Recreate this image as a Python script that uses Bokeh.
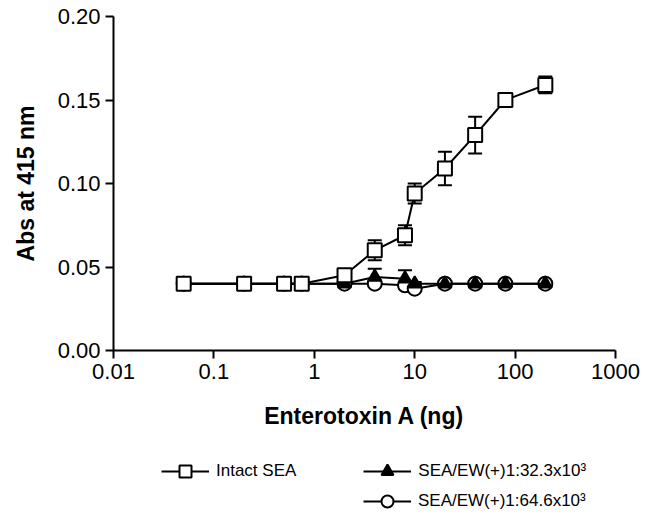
from bokeh.plotting import figure
from bokeh.layouts import column
from bokeh.models import (Range1d, FixedTicker, CustomJSTickFormatter, ColumnDataSource,
                          Whisker, TeeHead, Legend, LegendItem)
from bokeh.embed import file_html
from bokeh.resources import INLINE

# ---- data ----
dose_ng = [0.05, 0.2, 0.5, 0.75, 2, 4, 8, 10, 20, 40, 80, 200]

intact_sea = [0.040, 0.040, 0.040, 0.040, 0.045, 0.060, 0.069, 0.094, 0.109, 0.129, 0.150, 0.159]
intact_err = [0.002, 0.001, 0.001, 0.001, 0.002, 0.006, 0.006, 0.006, 0.010, 0.011, 0.002, 0.005]

sea_ew_32 = [0.040, 0.040, 0.040, 0.040, 0.040, 0.044, 0.043, 0.040, 0.040, 0.040, 0.040, 0.040]
sea_ew_32_err = [0.001, 0.001, 0.001, 0.001, 0.001, 0.005, 0.005, 0.001, 0.001, 0.001, 0.001, 0.001]

sea_ew_64 = [0.040, 0.040, 0.040, 0.040, 0.040, 0.040, 0.039, 0.037, 0.040, 0.040, 0.040, 0.040]
sea_ew_64_err = [0.001, 0.001, 0.001, 0.001, 0.001, 0.001, 0.002, 0.001, 0.001, 0.001, 0.001, 0.001]

x_ticks = [0.01, 0.1, 1, 10, 100, 1000]
y_ticks = [0.00, 0.05, 0.10, 0.15, 0.20]

labels = ["Intact SEA", "SEA/EW(+)1:32.3x10\u00b3", "SEA/EW(+)1:64.6x10\u00b3"]

FONT = "Liberation Sans"
W = 645

p = figure(x_axis_type="log", x_range=Range1d(0.01, 1000), y_range=Range1d(0, 0.2),
           frame_width=502, frame_height=334,
           min_border_left=113, min_border_right=W - 113 - 502, min_border_top=16,
           min_border_bottom=100,
           output_backend="svg", toolbar_location=None)
p.outline_line_color = None
p.xgrid.visible = False
p.ygrid.visible = False
p.background_fill_color = "white"
p.border_fill_color = "white"

for ax in (p.xaxis[0], p.yaxis[0]):
    ax.axis_line_width = 2
    ax.axis_line_color = "black"
    ax.major_tick_line_width = 2
    ax.major_tick_line_color = "black"
    ax.major_tick_out = 8
    ax.major_tick_in = 0
    ax.minor_tick_out = 0
    ax.minor_tick_in = 0
    ax.major_label_text_font = FONT
    ax.major_label_text_font_size = "22px"
    ax.major_label_text_color = "black"
    ax.axis_label_text_font = FONT
    ax.axis_label_text_font_size = "23px"
    ax.axis_label_text_font_style = "bold"
    ax.axis_label_text_color = "black"

p.xaxis.ticker = FixedTicker(ticks=x_ticks)
p.xaxis.formatter = CustomJSTickFormatter(code="return tick.toString();")
p.xaxis.major_label_standoff = 5
p.xaxis.axis_label = "Enterotoxin A (ng)"
p.xaxis.axis_label_standoff = 21

p.yaxis.ticker = FixedTicker(ticks=y_ticks)
p.yaxis.formatter = CustomJSTickFormatter(code="return tick.toFixed(2);")
p.yaxis.major_label_standoff = 5
p.yaxis.axis_label = "Abs at 415 nm"
p.yaxis.axis_label_standoff = 16

STYLES = [
    dict(marker="circle", fill="white", size=14),
    dict(marker="triangle", fill="black", size=13),
    dict(marker="square", fill="white", size=14),
]
SERIES = [(sea_ew_64, sea_ew_64_err), (sea_ew_32, sea_ew_32_err), (intact_sea, intact_err)]


def add_series(fig, y, err, st, whiskers=True):
    src = ColumnDataSource(dict(x=dose_ng, y=y,
                                upper=[a + b for a, b in zip(y, err)],
                                lower=[a - b for a, b in zip(y, err)]))
    if whiskers:
        w = Whisker(base="x", upper="upper", lower="lower", source=src,
                    line_width=2, line_color="black", level="underlay",
                    upper_head=TeeHead(size=14, line_width=2, line_color="black"),
                    lower_head=TeeHead(size=14, line_width=2, line_color="black"))
        fig.add_layout(w)
    lr = fig.line("x", "y", source=src, line_width=2, line_color="black")
    sr = fig.scatter("x", "y", source=src, marker=st["marker"], size=st["size"],
                     fill_color=st["fill"], line_color="black", line_width=2)
    return lr, sr


for (y, e), st in zip(SERIES, STYLES):
    add_series(p, y, e, st)

# ---- legend strip below the chart (same series, drawn out of its view) ----
LH = 67
lf = figure(width=W, height=LH, x_range=Range1d(-3, -2), y_range=Range1d(-3, -2),
            min_border=0, output_backend="svg", toolbar_location=None,
            x_axis_location=None, y_axis_location=None)
lf.outline_line_color = None
lf.xgrid.visible = False
lf.ygrid.visible = False

rends = [add_series(lf, y, e, st, whiskers=False) for (y, e), st in zip(SERIES, STYLES)]
c_r, t_r, s_r = rends


def make_legend(items, loc, spacing=0):
    lg = Legend(items=items, location=loc, orientation="horizontal",
                glyph_width=48, glyph_height=30, label_height=30, spacing=spacing,
                padding=0, margin=0, label_standoff=7,
                label_text_font=FONT, label_text_font_size="17px",
                label_text_color="black",
                border_line_color=None, background_fill_alpha=0)
    lf.add_layout(lg, "center")


make_legend([LegendItem(label=labels[0], renderers=list(s_r)),
             LegendItem(label=labels[1], renderers=list(t_r))], (48, 31), spacing=67)
make_legend([LegendItem(label=labels[2], renderers=list(c_r))], (250, 1))

layout = column(p, lf, spacing=0)
open("out.html", "w").write(file_html(layout, INLINE))
